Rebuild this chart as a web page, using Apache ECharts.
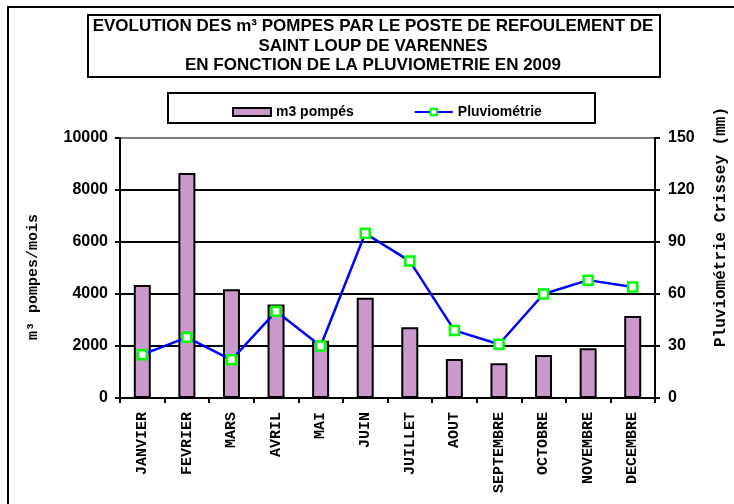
<!DOCTYPE html>
<html>
<head>
<meta charset="utf-8">
<script src="https://cdn.jsdelivr.net/npm/echarts@6/dist/echarts.min.js"></script>
<style>
  html, body { margin: 0; padding: 0; background: #fff; }
  #echart { width: 734px; height: 504px; }
</style>
</head>
<body>
<div id="echart"></div>
<script>
var mois = ['JANVIER', 'FEVRIER', 'MARS', 'AVRIL', 'MAI', 'JUIN', 'JUILLET', 'AOUT', 'SEPTEMBRE', 'OCTOBRE', 'NOVEMBRE', 'DECEMBRE'];
var m3Pompes = [4350, 8650, 4180, 3600, 2200, 3860, 2720, 1500, 1340, 1650, 1910, 3150];
var pluvio = [25, 35, 22, 50, 30, 95, 79, 39, 31, 60, 68, 64];

var chart = echarts.init(document.getElementById('echart'));

var option = {
    animation: false,
    backgroundColor: '#fff',
    title: {
        text: 'EVOLUTION DES m³ POMPES PAR LE POSTE DE REFOULEMENT DE\nSAINT LOUP DE VARENNES\nEN FONCTION DE LA PLUVIOMETRIE EN 2009',
        left: 373,
        top: 17,
        padding: 0,
        textAlign: 'center',
        textStyle: {
            fontFamily: 'Liberation Sans, Arial',
            fontSize: 17,
            fontWeight: 'bold',
            color: '#000',
            lineHeight: 19.5
        }
    },
    legend: {
        top: 100,
        left: 227,
        itemGap: 60,
        itemWidth: 38,
        itemHeight: 8,
        textStyle: {
            fontFamily: 'Liberation Sans, Arial',
            fontSize: 14,
            fontWeight: 'bold',
            color: '#000'
        },
        data: [
            { name: 'm3 pompés', icon: 'rect' },
            { name: 'Pluviométrie' }
        ]
    },
    graphic: [
        // cadre extérieur
        { type: 'rect', shape: { x: 8, y: 7, width: 740, height: 510 }, style: { fill: null, stroke: '#000', lineWidth: 2 }, z: -1 },
        // cadre du titre
        { type: 'rect', shape: { x: 88, y: 15, width: 572, height: 62 }, style: { fill: null, stroke: '#000', lineWidth: 2 } },
        // cadre de la légende
        { type: 'rect', shape: { x: 168, y: 93, width: 427, height: 30 }, style: { fill: null, stroke: '#000', lineWidth: 2 } },
        {
            type: 'text', x: 33, y: 277, rotation: Math.PI / 2,
            style: { text: 'm³ pompes/mois', font: 'bold 15px "Liberation Mono", "Courier New", monospace', fill: '#000', align: 'center', verticalAlign: 'middle' }
        },
        {
            type: 'text', x: 721, y: 227, rotation: Math.PI / 2,
            style: { text: 'Pluviométrie Crissey (mm)', font: 'bold 16px "Liberation Mono", "Courier New", monospace', fill: '#000', align: 'center', verticalAlign: 'middle' }
        }
    ],
    grid: {
        left: 120,
        right: 79,
        top: 138,
        bottom: 106
    },
    xAxis: {
        type: 'category',
        data: mois,
        axisLine: { lineStyle: { color: '#000', width: 2 } },
        axisTick: { show: true, length: 5, lineStyle: { color: '#000', width: 2 } },
        axisLabel: {
            rotate: 90,
            interval: 0,
            margin: 14,
            fontFamily: 'Liberation Mono, Courier New, monospace',
            fontWeight: 'bold',
            fontSize: 15,
            color: '#000'
        }
    },
    yAxis: [
        {
            type: 'value',
            min: 0,
            max: 10000,
            interval: 2000,
            axisLine: { show: true, lineStyle: { color: '#000', width: 2 } },
            axisTick: { show: true, length: 5, lineStyle: { color: '#000', width: 2 } },
            axisLabel: {
                margin: 12,
                formatter: function (v) { return String(v); },
                fontFamily: 'Liberation Sans, Arial',
                fontWeight: 'bold',
                fontSize: 16,
                color: '#000'
            },
            splitLine: {
                show: true,
                lineStyle: { color: ['#000', '#000', '#000', '#000', '#000', '#808080'], width: 2 }
            }
        },
        {
            type: 'value',
            min: 0,
            max: 150,
            interval: 30,
            position: 'right',
            axisLine: { show: true, lineStyle: { color: '#000', width: 2 } },
            axisTick: { show: true, length: 5, lineStyle: { color: '#000', width: 2 } },
            axisLabel: {
                margin: 13,
                fontFamily: 'Liberation Sans, Arial',
                fontWeight: 'bold',
                fontSize: 16,
                color: '#000'
            },
            splitLine: { show: false }
        }
    ],
    series: [
        {
            name: 'm3 pompés',
            type: 'bar',
            barWidth: 17,
            itemStyle: {
                color: '#cc99cc',
                borderColor: '#000',
                borderWidth: 2
            },
            data: m3Pompes
        },
        {
            name: 'Pluviométrie',
            type: 'line',
            yAxisIndex: 1,
            symbol: 'rect',
            symbolSize: 9,
            lineStyle: { color: '#0000ff', width: 2.5 },
            itemStyle: {
                color: '#fff',
                borderColor: '#00ff00',
                borderWidth: 2.5
            },
            data: pluvio
        }
    ]
};

chart.setOption(option);
</script>
</body>
</html>
